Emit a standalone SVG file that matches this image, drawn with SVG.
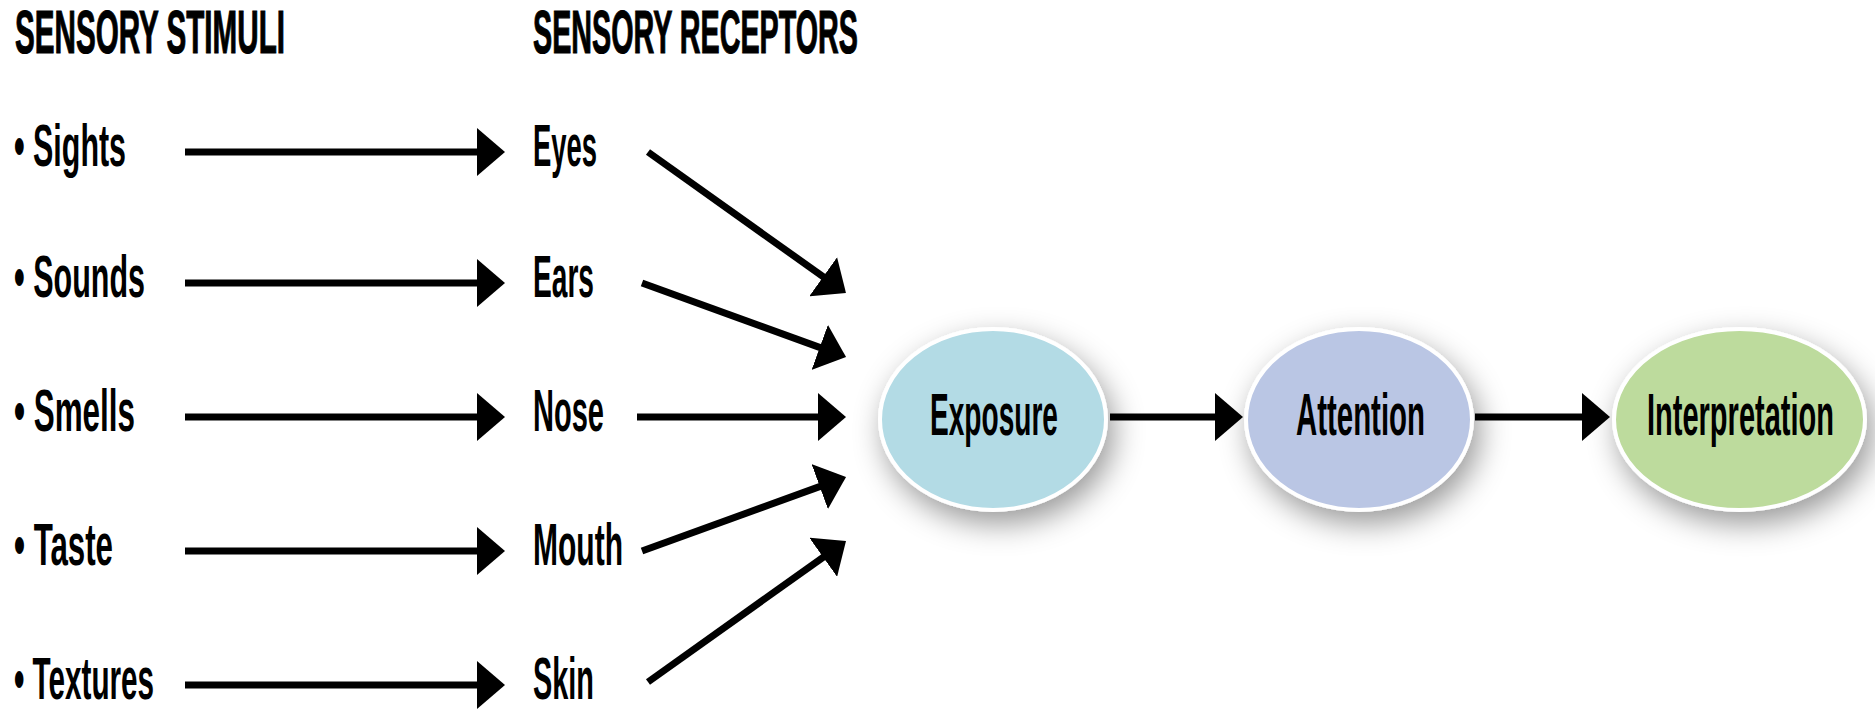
<svg xmlns="http://www.w3.org/2000/svg" width="1875" height="711" viewBox="0 0 1875 711">
  <defs>
    <style>
      .hdr { font-family: "Liberation Sans Narrow", "Liberation Sans", Arial, sans-serif; font-weight: bold; font-size: 62px; fill: #000; stroke: #000; stroke-width: 1.2px; }
      .itm { font-family: "Liberation Sans Narrow", "Liberation Sans", Arial, sans-serif; font-weight: bold; font-size: 59px; fill: #000; }
      .lbl { font-family: "Liberation Sans Narrow", "Liberation Sans", Arial, sans-serif; font-weight: bold; font-size: 60px; fill: #000; }
      .conn { stroke: #000; stroke-width: 7; fill: none; marker-end: url(#head); }
      .node { stroke: #fff; stroke-width: 4; filter: url(#shadow); }
    </style>
    <marker id="head" markerUnits="userSpaceOnUse" viewBox="0 0 28 48" refX="2" refY="24" markerWidth="28" markerHeight="48" orient="auto">
      <path d="M0,0 L28,24 L0,48 Z" fill="#000"/>
    </marker>
    <filter id="shadow" x="-40%" y="-40%" width="180%" height="190%">
      <feDropShadow dx="6" dy="12" stdDeviation="15" flood-color="#000" flood-opacity="0.4"/>
    </filter>
  </defs>

  <g id="headers">
    <text class="hdr" x="15" y="53" textLength="270" lengthAdjust="spacingAndGlyphs">SENSORY STIMULI</text>
    <text class="hdr" x="533" y="53" textLength="325" lengthAdjust="spacingAndGlyphs">SENSORY RECEPTORS</text>
  </g>

  <g id="stimuli">
    <text class="itm" x="14" y="166" textLength="112" lengthAdjust="spacingAndGlyphs">• Sights</text>
    <text class="itm" x="14" y="297" textLength="131" lengthAdjust="spacingAndGlyphs">• Sounds</text>
    <text class="itm" x="14" y="431" textLength="121" lengthAdjust="spacingAndGlyphs">• Smells</text>
    <text class="itm" x="14" y="565" textLength="99" lengthAdjust="spacingAndGlyphs">• Taste</text>
    <text class="itm" x="14" y="699" textLength="140" lengthAdjust="spacingAndGlyphs">• Textures</text>
  </g>

  <g id="receptors">
    <text class="itm" x="533" y="166" textLength="64" lengthAdjust="spacingAndGlyphs">Eyes</text>
    <text class="itm" x="533" y="297" textLength="61" lengthAdjust="spacingAndGlyphs">Ears</text>
    <text class="itm" x="533" y="431" textLength="71" lengthAdjust="spacingAndGlyphs">Nose</text>
    <text class="itm" x="533" y="565" textLength="90" lengthAdjust="spacingAndGlyphs">Mouth</text>
    <text class="itm" x="533" y="699" textLength="61" lengthAdjust="spacingAndGlyphs">Skin</text>
  </g>

  <g id="connectors">
    <line class="conn" x1="185" y1="152" x2="479" y2="152"/>
    <line class="conn" x1="185" y1="283" x2="479" y2="283"/>
    <line class="conn" x1="185" y1="417" x2="479" y2="417"/>
    <line class="conn" x1="185" y1="551" x2="479" y2="551"/>
    <line class="conn" x1="185" y1="685" x2="479" y2="685"/>
    <line class="conn" x1="648" y1="152" x2="824.8" y2="277.9"/>
    <line class="conn" x1="642" y1="283" x2="821.6" y2="348.1"/>
    <line class="conn" x1="637" y1="417" x2="820" y2="417"/>
    <line class="conn" x1="642" y1="551" x2="821.6" y2="485.9"/>
    <line class="conn" x1="648" y1="682" x2="824.8" y2="556.1"/>
    <line class="conn" x1="1110" y1="417" x2="1217" y2="417"/>
    <line class="conn" x1="1475" y1="417" x2="1584" y2="417"/>
  </g>

  <g id="exposure">
    <ellipse class="node" cx="993" cy="419.5" rx="113" ry="90.5" fill="#b3dbe5"/>
    <text class="lbl" x="930" y="435" textLength="128" lengthAdjust="spacingAndGlyphs">Exposure</text>
  </g>
  <g id="attention">
    <ellipse class="node" cx="1359" cy="419.5" rx="113" ry="90.5" fill="#bac6e4"/>
    <text class="lbl" x="1296" y="435" textLength="129" lengthAdjust="spacingAndGlyphs">Attention</text>
  </g>
  <g id="interpretation">
    <ellipse class="node" cx="1739.5" cy="419.5" rx="125.5" ry="90.5" fill="#bddb9d"/>
    <text class="lbl" x="1647" y="435" textLength="187" lengthAdjust="spacingAndGlyphs">Interpretation</text>
  </g>
</svg>
